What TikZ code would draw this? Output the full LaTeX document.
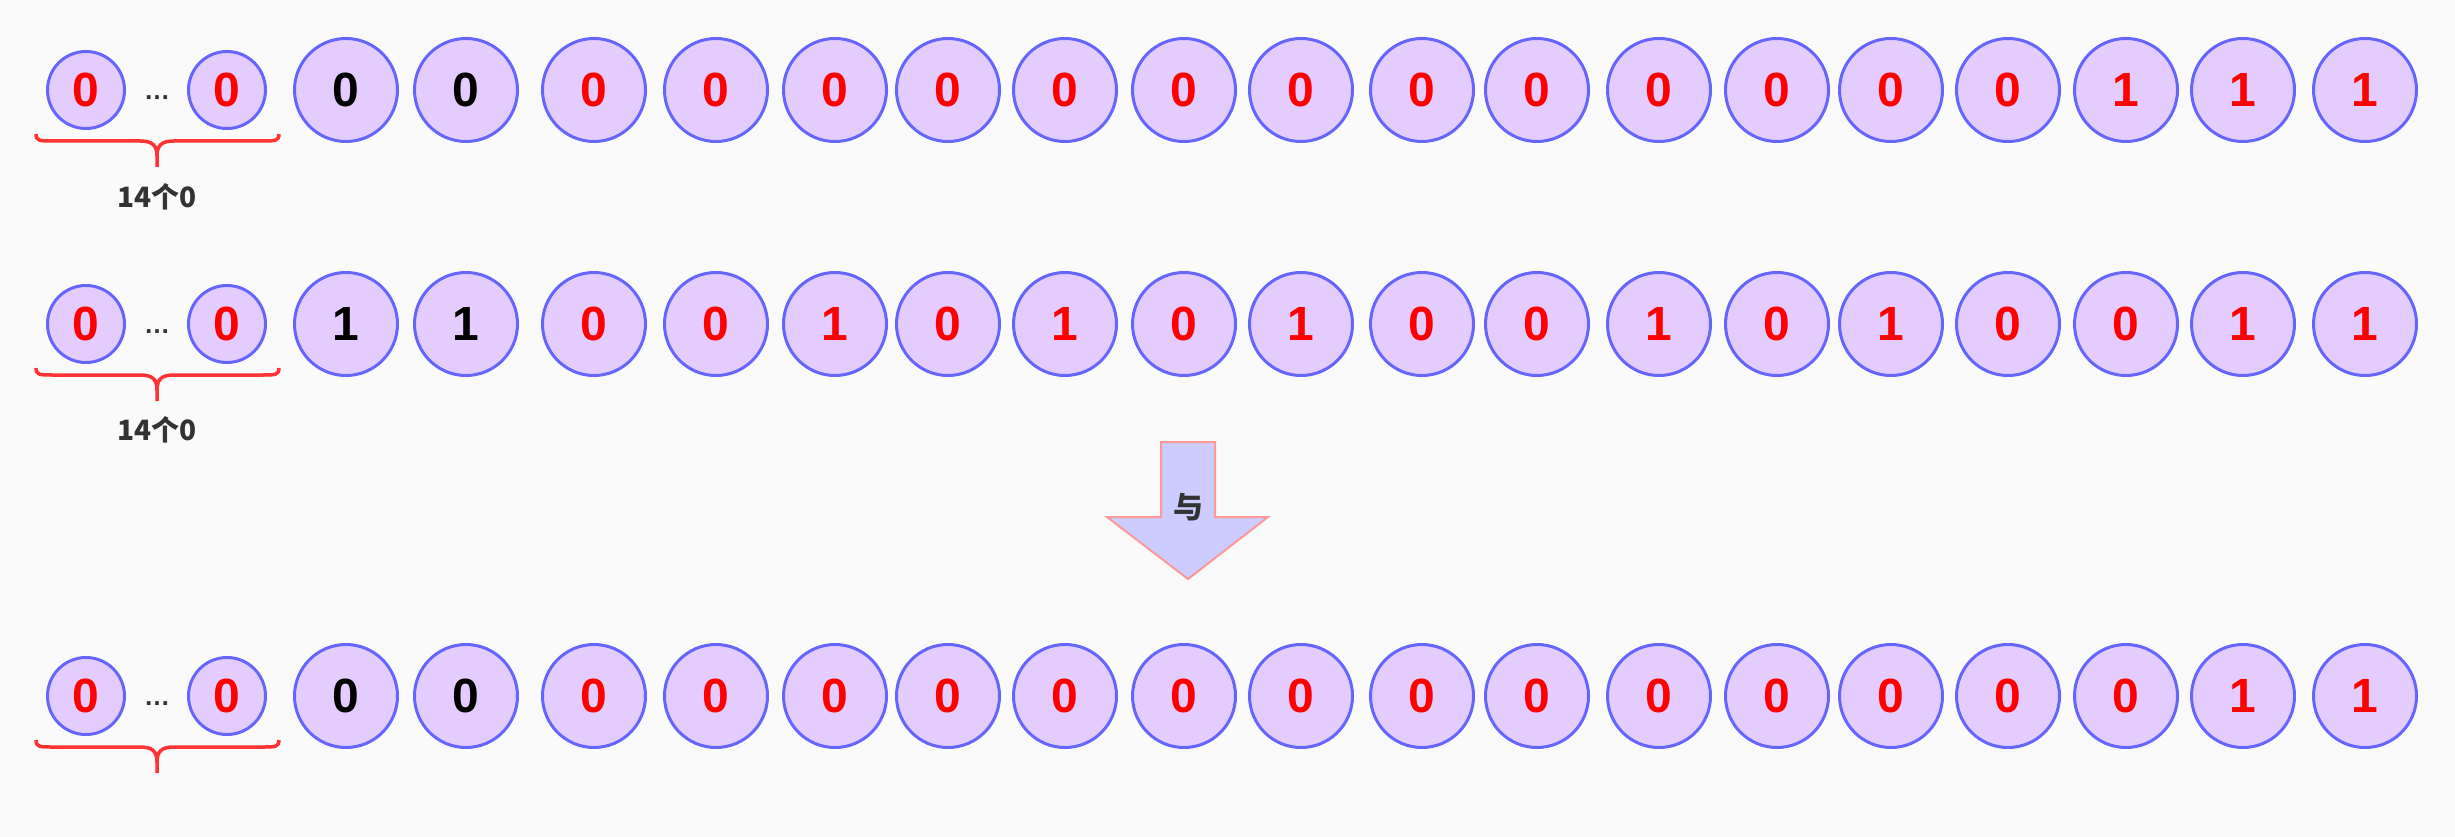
\documentclass[tikz,border=0pt]{standalone}
\usepackage{fontspec}
\setmainfont{Liberation Sans}
\newfontfamily\cjk{Noto Sans CJK SC}
\definecolor{bgc}{HTML}{FAFAFA}
\definecolor{cfill}{HTML}{E5CCFF}
\definecolor{cstroke}{HTML}{6666FF}
\definecolor{digred}{HTML}{FF0000}
\definecolor{bracered}{HTML}{FF3333}
\definecolor{txtdark}{HTML}{333333}
\definecolor{arrowfill}{HTML}{CCCCFF}
\definecolor{arrowline}{HTML}{FF9999}
\begin{document}
\begin{tikzpicture}[x=1pt,y=-1pt,
  bit/.style={circle, draw=cstroke, fill=cfill, line width=3pt, minimum size=103pt, inner sep=0pt, font=\fontsize{48}{48}\selectfont\bfseries},
  smallbit/.style={bit, minimum size=77pt, text=digred},
  bracepath/.style={draw=bracered, line width=3.5pt},
  countlbl/.style={font=\cjk\fontsize{28}{28}\selectfont\bfseries, text=txtdark},
  dotslbl/.style={font=\fontsize{26}{26}\selectfont\bfseries, text=txtdark, inner sep=0pt}]
\fill[bgc] (0,0) rectangle (2455,837);
\useasboundingbox (0,0) rectangle (2455,837);

% row 1
\begin{scope}[shift={(0,90)}]
  \node[smallbit] (a1) at (86,0) {0};
  \node[dotslbl] (ad) at (157,8) {…};
  \node[smallbit] (a2) at (227,0) {0};
  \foreach \x/\d/\c [count=\i] in {346/0/black,466/0/black,594/0/digred,716/0/digred,835/0/digred,948/0/digred,1065/0/digred,1184/0/digred,1301/0/digred,1422/0/digred,1537/0/digred,1659/0/digred,1777/0/digred,1891/0/digred,2008/0/digred,2126/1/digred,2243/1/digred,2365/1/digred}
    \node[bit, text=\c] (ab\i) at (\x,0) {\d};
  \draw[bracepath] (36,44) .. controls (36,51) and (40,51) .. (52,51) -- (140,51) .. controls (152,51) and (157,55) .. (157,66) -- (157,77);
  \draw[bracepath] (279,44) .. controls (279,51) and (275,51) .. (263,51) -- (174,51) .. controls (162,51) and (157,55) .. (157,66);
  \node[countlbl] (al) at (157,107) {14个0};
\end{scope}

% row 2
\begin{scope}[shift={(0,324)}]
  \node[smallbit] (b1) at (86,0) {0};
  \node[dotslbl] (bd) at (157,8) {…};
  \node[smallbit] (b2) at (227,0) {0};
  \foreach \x/\d/\c [count=\i] in {346/1/black,466/1/black,594/0/digred,716/0/digred,835/1/digred,948/0/digred,1065/1/digred,1184/0/digred,1301/1/digred,1422/0/digred,1537/0/digred,1659/1/digred,1777/0/digred,1891/1/digred,2008/0/digred,2126/0/digred,2243/1/digred,2365/1/digred}
    \node[bit, text=\c] (bb\i) at (\x,0) {\d};
  \draw[bracepath] (36,44) .. controls (36,51) and (40,51) .. (52,51) -- (140,51) .. controls (152,51) and (157,55) .. (157,66) -- (157,77);
  \draw[bracepath] (279,44) .. controls (279,51) and (275,51) .. (263,51) -- (174,51) .. controls (162,51) and (157,55) .. (157,66);
  \node[countlbl] (bl) at (157,106) {14个0};
\end{scope}

% arrow
\draw[fill=arrowfill, draw=arrowline, line width=2pt] (1161,442) -- (1215,442) -- (1215,517) -- (1268,517) -- (1188,579) -- (1107,517) -- (1161,517) -- cycle;
\node[font=\cjk\fontsize{30}{30}\selectfont\bfseries, text=txtdark] (andlbl) at (1188,507) {与};

% row 3
\begin{scope}[shift={(0,696)}]
  \node[smallbit] (c1) at (86,0) {0};
  \node[dotslbl] (cd) at (157,8) {…};
  \node[smallbit] (c2) at (227,0) {0};
  \foreach \x/\d/\c [count=\i] in {346/0/black,466/0/black,594/0/digred,716/0/digred,835/0/digred,948/0/digred,1065/0/digred,1184/0/digred,1301/0/digred,1422/0/digred,1537/0/digred,1659/0/digred,1777/0/digred,1891/0/digred,2008/0/digred,2126/0/digred,2243/1/digred,2365/1/digred}
    \node[bit, text=\c] (cb\i) at (\x,0) {\d};
  \draw[bracepath] (36,44) .. controls (36,51) and (40,51) .. (52,51) -- (140,51) .. controls (152,51) and (157,55) .. (157,66) -- (157,77);
  \draw[bracepath] (279,44) .. controls (279,51) and (275,51) .. (263,51) -- (174,51) .. controls (162,51) and (157,55) .. (157,66);
\end{scope}
\end{tikzpicture}
\end{document}
